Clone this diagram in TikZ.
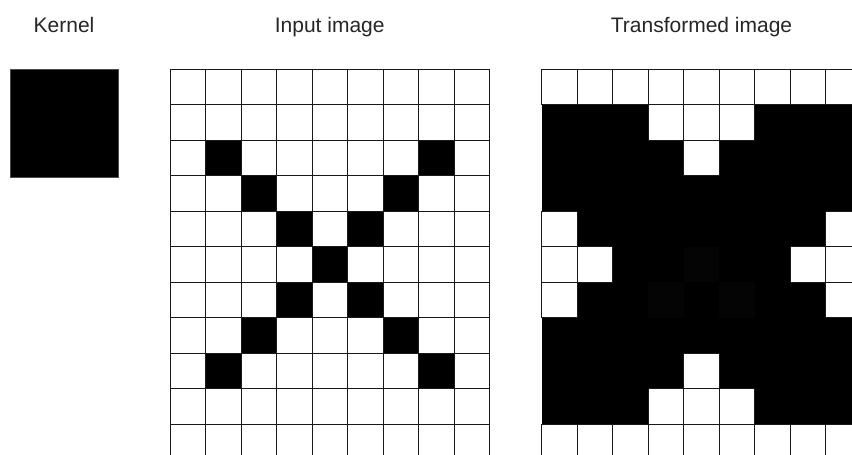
\documentclass[tikz,border=0pt]{standalone}
\usepackage{fontspec}
\setmainfont{Liberation Sans}
\begin{document}
\begin{tikzpicture}[x=1pt,y=-1pt,
  gridline/.style={draw=black!90, line width=1pt},
  lbl/.style={font=\fontsize{21}{25}\selectfont, text=black!85, inner sep=0pt, anchor=base}]
\useasboundingbox (0,0) rectangle (852,455);
\clip (0,0) rectangle (852,455);
\fill[white] (0,0) rectangle (852,455);
% titles
\node[lbl] (tk) at (64,32) {Kernel};
\node[lbl] (ti) at (329.7,32) {Input image};
\node[lbl] (tt) at (701.5,32) {Transformed image};
% kernel
\draw[fill=black, draw=black!70, line width=0.8pt] (10,69) rectangle (118,177);
% input image
\foreach \c/\r in {1/2,2/3,3/4,4/5,5/4,6/3,7/2,3/6,5/6,2/7,6/7,1/8,7/8}
  \fill[black] ({170+\c*35.5},{69+\r*35.5}) rectangle ++(35.5,35.5);
\foreach \i in {0,...,9}
  \draw[gridline] ({170+\i*35.5},69) -- ({170+\i*35.5},460);
\foreach \j in {0,...,10}
  \draw[gridline] (170,{69+\j*35.5}) -- (489.5,{69+\j*35.5});
% transformed image
\fill[black] (541.7,{69+35.5}) rectangle ++(319.5,319.5);
\foreach \c/\r in {4/5,3/6,5/6}
  \fill[black!98.5] ({541.7+\c*35.5},{69+\r*35.5}) rectangle ++(35.5,35.5);
\foreach \c in {0,...,8}{
  \draw[gridline, fill=white] ({541.7+\c*35.5},69) rectangle ++(35.5,35.5);
  \draw[gridline, fill=white] ({541.7+\c*35.5},{69+10*35.5}) rectangle ++(35.5,35.5);
}
\foreach \c/\r in {3/1,4/1,5/1,4/2,0/4,8/4,0/5,1/5,7/5,8/5,0/6,8/6,4/8,3/9,4/9,5/9}
  \draw[gridline, fill=white] ({541.7+\c*35.5},{69+\r*35.5}) rectangle ++(35.5,35.5);
\end{tikzpicture}
\end{document}
